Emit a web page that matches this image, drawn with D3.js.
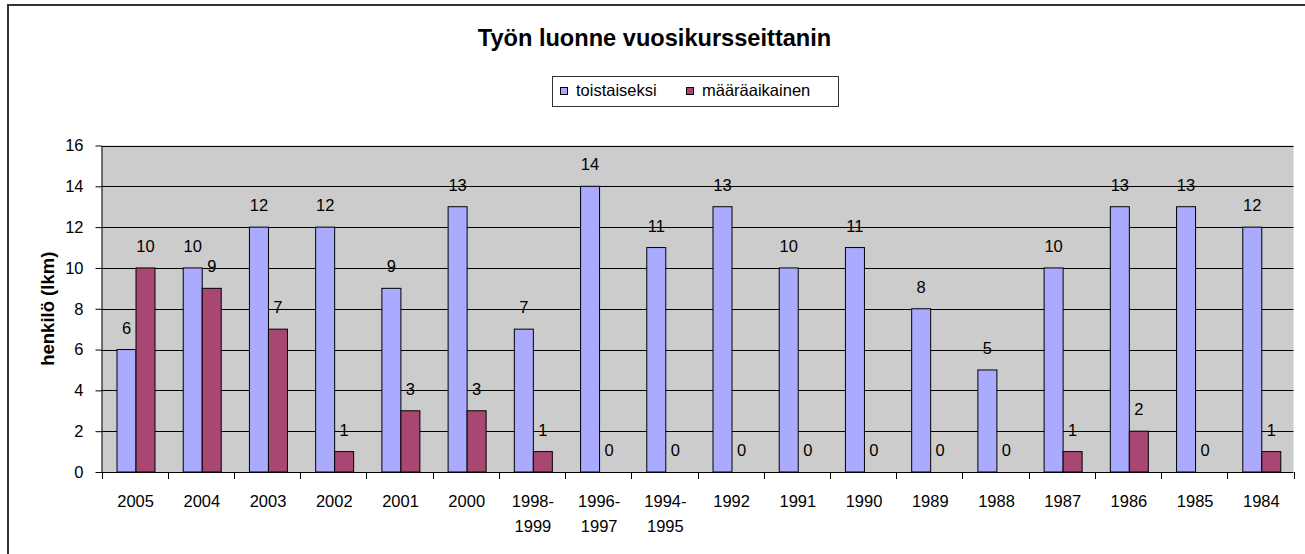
<!DOCTYPE html>
<html>
<head>
<meta charset="utf-8">
<script src="https://cdn.jsdelivr.net/npm/d3@7"></script>
<style>
  html, body { margin: 0; padding: 0; background: #fff; }
  svg { display: block; font-family: "Liberation Sans", Arial, sans-serif; }
</style>
</head>
<body>
<svg id="chart" width="1305" height="554"></svg>
<script>
// data
const categories = ["2005", "2004", "2003", "2002", "2001", "2000", "1998-1999", "1996-1997",
  "1994-1995", "1992", "1991", "1990", "1989", "1988", "1987", "1986", "1985", "1984"];
const toistaiseksi = [6, 10, 12, 12, 9, 13, 7, 14, 11, 13, 10, 11, 8, 5, 10, 13, 13, 12];
const maaraaikainen = [10, 9, 7, 1, 3, 3, 1, 0, 0, 0, 0, 0, 0, 0, 1, 2, 0, 1];
const seriesNames = ["toistaiseksi", "määräaikainen"];
const yTickValues = [0, 2, 4, 6, 8, 10, 12, 14, 16];

const colors = { "toistaiseksi": "#aaaaff", "määräaikainen": "#a84872" };

const svg = d3.select("#chart");
const plot = { left: 101.5, right: 1293.5, top: 145.5, bottom: 472 };

// outer chart border (runs off the right/bottom edge)
svg.append("rect")
  .attr("x", 8).attr("y", 5)
  .attr("width", 1400).attr("height", 600)
  .attr("fill", "none")
  .attr("stroke", "#333")
  .attr("stroke-width", 2);

// title
svg.append("text")
  .attr("x", 654.5).attr("y", 45.5)
  .attr("text-anchor", "middle")
  .attr("font-size", 23.6)
  .attr("font-weight", "bold")
  .text("Työn luonne vuosikursseittanin");

// legend
const legend = svg.append("g");
legend.append("rect")
  .attr("x", 552.5).attr("y", 76.5)
  .attr("width", 286).attr("height", 30)
  .attr("fill", "#fff")
  .attr("stroke", "#333");
const legendItems = [{ name: seriesNames[0], x: 560 }, { name: seriesNames[1], x: 686 }];
legendItems.forEach(it => {
  legend.append("rect")
    .attr("x", it.x + 0.5).attr("y", 87.5)
    .attr("width", 7).attr("height", 7)
    .attr("fill", colors[it.name])
    .attr("stroke", "#000");
  legend.append("text")
    .attr("x", it.x + 16).attr("y", 96)
    .attr("font-size", 16.5)
    .text(it.name);
});

// scales
const x0 = d3.scaleBand().domain(categories).range([plot.left, plot.right]);
const x1 = d3.scaleBand().domain(seriesNames).range([15.5, 53.5]);
const y = d3.scaleLinear().domain([0, 16]).range([plot.bottom, plot.top]);

// plot background
svg.append("rect")
  .attr("x", plot.left).attr("y", plot.top)
  .attr("width", plot.right - plot.left)
  .attr("height", plot.bottom - plot.top)
  .attr("fill", "#cccccc");

// gridlines
svg.append("g")
  .selectAll("line")
  .data(yTickValues.filter(d => d > 0))
  .enter()
  .append("line")
  .attr("x1", plot.left).attr("x2", plot.right)
  .attr("y1", d => Math.round(y(d)) + 0.5)
  .attr("y2", d => Math.round(y(d)) + 0.5)
  .attr("stroke", "#000")
  .attr("stroke-width", 1);

// bars
const rows = categories.map((c, i) => ({
  cat: c,
  values: [
    { key: seriesNames[0], value: toistaiseksi[i] },
    { key: seriesNames[1], value: maaraaikainen[i] },
  ],
}));

const groups = svg.append("g")
  .selectAll("g")
  .data(rows)
  .enter()
  .append("g")
  .attr("transform", d => `translate(${x0(d.cat)},0)`);

groups.selectAll("rect")
  .data(d => d.values.filter(v => v.value > 0))
  .enter()
  .append("rect")
  .attr("x", d => x1(d.key))
  .attr("y", d => y(d.value))
  .attr("width", x1.bandwidth())
  .attr("height", d => y(0) - y(d.value))
  .attr("fill", d => colors[d.key])
  .attr("stroke", "#000")
  .attr("stroke-width", 1);

groups.selectAll("text")
  .data(d => d.values)
  .enter()
  .append("text")
  .attr("x", d => x1(d.key) + x1.bandwidth() / 2)
  .attr("y", d => y(d.value) - 16)
  .attr("text-anchor", "middle")
  .attr("font-size", 16.5)
  .text(d => d.value);

// y axis
const yAxis = svg.append("g")
  .attr("transform", `translate(${plot.left},0)`)
  .call(d3.axisLeft(y).tickValues(yTickValues).tickSize(6).tickSizeOuter(0).tickPadding(12));
yAxis.select(".domain").attr("stroke", "#000");
yAxis.selectAll(".tick line").attr("stroke", "#000");
yAxis.selectAll(".tick text")
  .attr("font-size", 16.5)
  .attr("font-family", "Liberation Sans, Arial, sans-serif")
  .attr("fill", "#000");

// x axis: ticks at category boundaries
const xAxisG = svg.append("g");
xAxisG.append("line")
  .attr("x1", plot.left).attr("x2", plot.right)
  .attr("y1", plot.bottom + 0.5).attr("y2", plot.bottom + 0.5)
  .attr("stroke", "#000");
xAxisG.selectAll("line.tk")
  .data(categories.concat(["__end"]))
  .enter()
  .append("line")
  .attr("class", "tk")
  .attr("x1", (d, i) => Math.round(plot.left + i * x0.bandwidth()) + 0.5)
  .attr("x2", (d, i) => Math.round(plot.left + i * x0.bandwidth()) + 0.5)
  .attr("y1", plot.bottom)
  .attr("y2", plot.bottom + 7)
  .attr("stroke", "#000");

const xLabels = xAxisG.selectAll("text")
  .data(categories)
  .enter()
  .append("text")
  .attr("x", d => x0(d) + x0.bandwidth() / 2 + 1)
  .attr("y", 507)
  .attr("text-anchor", "middle")
  .attr("font-size", 16.5);
xLabels.each(function (d) {
  const parts = d.includes("-") ? [d.split("-")[0] + "-", d.split("-")[1]] : [d];
  const t = d3.select(this);
  parts.forEach((p, i) => {
    t.append("tspan")
      .attr("x", x0(d) + x0.bandwidth() / 2 + 1)
      .attr("dy", i === 0 ? 0 : 25)
      .text(p);
  });
});

// y axis title
svg.append("text")
  .attr("transform", `translate(54,${(plot.top + plot.bottom) / 2}) rotate(-90)`)
  .attr("text-anchor", "middle")
  .attr("font-size", 18.5)
  .attr("font-weight", "bold")
  .text("henkilö (lkm)");
</script>
</body>
</html>
